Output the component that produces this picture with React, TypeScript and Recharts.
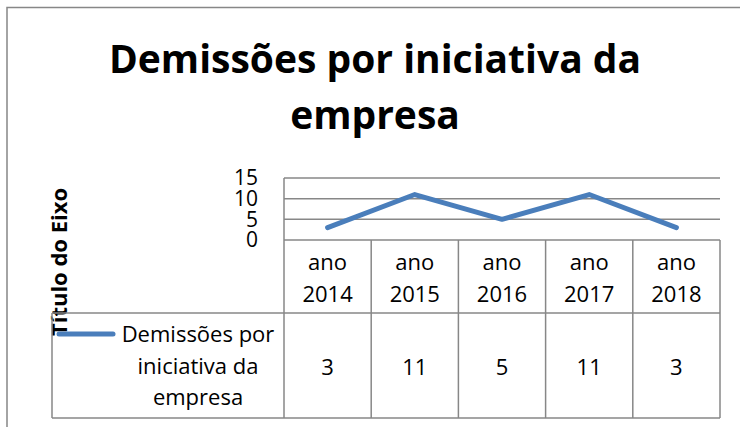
import React from "react";
import { LineChart, Line, XAxis, YAxis, CartesianGrid } from "recharts";

const CATEGORIES = ["ano 2014", "ano 2015", "ano 2016", "ano 2017", "ano 2018"];
const VALUES = [3, 11, 5, 11, 3];
const Y_TICKS = [0, 5, 10, 15];
const SERIES_NAME = "Demissões por iniciativa da empresa";
const TITLE_LINES = ["Demissões por iniciativa da", "empresa"];
const AXIS_TITLE = "Título do Eixo";
const LEGEND_LINES = ["Demissões por", "iniciativa da", "empresa"];

const data = CATEGORIES.map((c, i) => ({ name: c, value: VALUES[i] }));

const W = 740;
const H = 427;
const PLOT_LEFT = 284;
const PLOT_RIGHT = 720;
const PLOT_TOP = 178;
const PLOT_BOTTOM = 240;
const ROW2_TOP = 313;
const TABLE_BOTTOM = 418;
const TABLE_LEFT = 52;
const GRID = "#878787";
const LINE = "#4A7EBB";
const FONT = "'Open Sans', 'DejaVu Sans', sans-serif";

const XTick = (props: any) => {
  const { x, y, payload, index } = props;
  const parts = String(payload.value).split(" ");
  return (
    <g>
      <text x={x} y={y + 30} textAnchor="middle" fontFamily={FONT} fontSize={22} fill="#000">
        {parts[0]}
      </text>
      <text x={x} y={y + 62} textAnchor="middle" fontFamily={FONT} fontSize={22} fill="#000">
        {parts[1]}
      </text>
      <text x={x} y={y + 135} textAnchor="middle" fontFamily={FONT} fontSize={22} fill="#000">
        {VALUES[index]}
      </text>
    </g>
  );
};

export default function App() {
  const colW = (PLOT_RIGHT - PLOT_LEFT) / CATEGORIES.length;
  const vlines = CATEGORIES.map((_, i) => PLOT_LEFT + colW * i).concat([PLOT_RIGHT]);
  return (
    <div style={{ position: "absolute", left: 0, top: 0, width: W, height: H, background: "#fff" }}>
      <LineChart
        width={W}
        height={H}
        data={data}
        margin={{ top: PLOT_TOP, right: W - PLOT_RIGHT, bottom: H - PLOT_BOTTOM - 178, left: PLOT_LEFT - 60 }}
      >
        <CartesianGrid horizontal vertical={false} stroke={GRID} strokeWidth={1.5} />
        <XAxis
          dataKey="name"
          scale="band"
          height={178}
          axisLine={false}
          tickLine={false}
          tickSize={0}
          tickMargin={0}
          interval={0}
          tick={<XTick />}
        />
        <YAxis
          width={60}
          domain={[0, 15]}
          ticks={Y_TICKS}
          interval={0}
          axisLine={{ stroke: GRID, strokeWidth: 1.5 }}
          tickLine={false}
          tickSize={0}
          tickMargin={26}
          tick={{ fontFamily: FONT, fontSize: 21, fill: "#000" }}
        />
        <Line
          type="linear"
          dataKey="value"
          name={SERIES_NAME}
          stroke={LINE}
          strokeWidth={5}
          strokeLinecap="round"
          strokeLinejoin="round"
          dot={false}
          activeDot={false}
          isAnimationActive={false}
        />
      </LineChart>
      <svg
        width={W}
        height={H}
        style={{ position: "absolute", left: 0, top: 0, pointerEvents: "none" }}
      >
        <rect x={7} y={7.5} width={800} height={500} fill="none" stroke={GRID} strokeWidth={1.5} />
        {TITLE_LINES.map((t, i) => (
          <text
            key={t}
            x={375}
            y={73 + i * 56}
            textAnchor="middle"
            fontFamily={FONT}
            fontWeight="bold"
            fontSize={39}
            fill="#000"
          >
            {t}
          </text>
        ))}
        <text
          transform="translate(67,262) rotate(-90)"
          textAnchor="middle"
          fontFamily={FONT}
          fontWeight="bold"
          fontSize={22}
          fill="#000"
        >
          {AXIS_TITLE}
        </text>
        {vlines.map((x, i) => (
          <line key={i} x1={x} x2={x} y1={PLOT_BOTTOM} y2={TABLE_BOTTOM} stroke={GRID} strokeWidth={1.5} />
        ))}
        <line x1={TABLE_LEFT} x2={PLOT_RIGHT} y1={ROW2_TOP} y2={ROW2_TOP} stroke={GRID} strokeWidth={1.5} />
        <line x1={TABLE_LEFT} x2={PLOT_RIGHT} y1={TABLE_BOTTOM} y2={TABLE_BOTTOM} stroke={GRID} strokeWidth={1.5} />
        <line x1={TABLE_LEFT} x2={TABLE_LEFT} y1={ROW2_TOP} y2={TABLE_BOTTOM} stroke={GRID} strokeWidth={1.5} />
        <line x1={59} x2={113} y1={334} y2={334} stroke={LINE} strokeWidth={5} strokeLinecap="round" />
        {LEGEND_LINES.map((t, i) => (
          <text
            key={t}
            x={198}
            y={342 + i * 31.5}
            textAnchor="middle"
            fontFamily={FONT}
            fontSize={22}
            fill="#000"
          >
            {t}
          </text>
        ))}
      </svg>
    </div>
  );
}
